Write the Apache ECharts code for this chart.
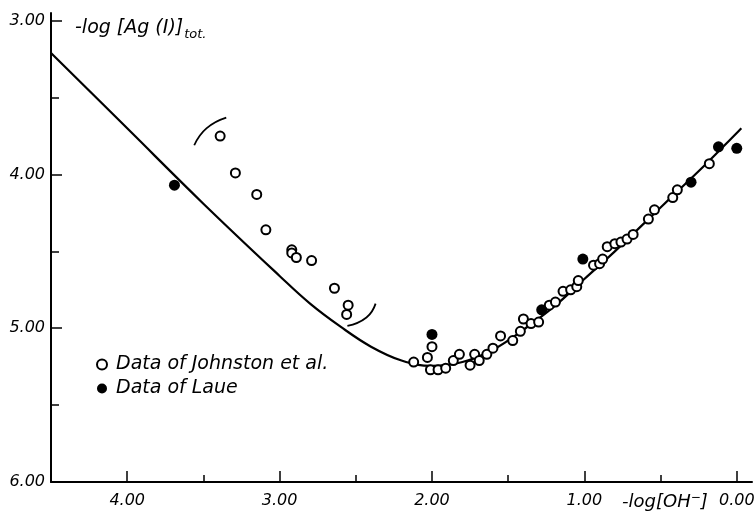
<!DOCTYPE html>
<html>
<head>
<meta charset="utf-8">
<script src="https://cdn.jsdelivr.net/npm/echarts@6/dist/echarts.min.js"></script>
<style>
html,body{margin:0;padding:0;background:#fff;}
#chart{width:755px;height:511px;}
</style>
</head>
<body>
<div id="chart"></div>
<script>
// -log[OH-] values (x) and -log[Ag(I)]tot values (y)
const johnstonX = [3.39,3.29,3.15,3.09,2.92,2.92,2.89,2.79,2.64,2.55,2.56,
  2.12,2.03,2.00,2.01,1.96,1.91,1.86,1.82,1.75,1.72,1.69,1.64,1.60,1.55,1.47,1.42,1.40,1.35,1.30,
  1.23,1.19,1.14,1.09,1.05,1.04,0.94,0.90,0.88,0.85,0.80,0.76,0.72,0.68,0.58,0.54,0.42,0.39,0.18];
const johnstonY = [3.75,3.99,4.13,4.36,4.49,4.51,4.54,4.56,4.74,4.85,4.91,
  5.22,5.19,5.12,5.27,5.27,5.26,5.21,5.17,5.24,5.17,5.21,5.17,5.13,5.05,5.08,5.02,4.94,4.97,4.96,
  4.85,4.83,4.76,4.75,4.73,4.69,4.59,4.58,4.55,4.47,4.45,4.44,4.42,4.39,4.29,4.23,4.15,4.10,3.93];
const laueX = [3.69,2.00,1.28,1.01,0.30,0.12,0.00];
const laueY = [4.07,5.04,4.88,4.55,4.05,3.82,3.83];
const curveX = [4.50,4.00,3.50,3.00,2.80,2.60,2.40,2.20,2.00,1.80,1.60,1.40,1.20,1.00,0.80,0.60,0.40,0.20,0.00,-0.03];
const curveY = [3.21,3.70,4.19,4.66,4.84,4.99,5.12,5.21,5.245,5.22,5.14,5.01,4.86,4.68,4.50,4.31,4.12,3.93,3.73,3.70];
const bracketUpperX = [3.56,3.48,3.35];
const bracketUpperY = [3.81,3.70,3.63];
const bracketLowerX = [2.555,2.43,2.37];
const bracketLowerY = [4.985,4.93,4.84];
const xLabelTicks = [0,1,2,3,4];
const xHalfTicks = [0,0.5,1,1.5,2,2.5,3,3.5,4];
const yLabelTicks = [3,4,5,6];
const yHalfTicks = [3.5,4.5,5.5];

const FONT = 'DejaVu Sans';
const zip = (a,b) => a.map((v,i) => [v,b[i]]);
const fmt = v => Number(v).toFixed(2);

const chart = echarts.init(document.getElementById('chart'), null, {renderer:'canvas'});
const xCommon = {type:'value', min:-0.1, max:4.5, inverse:true, position:'bottom', splitLine:{show:false}};
const yCommon = {type:'value', min:2.95, max:6.0, inverse:true, position:'left', splitLine:{show:false}};
chart.setOption({
  backgroundColor:'#ffffff',
  animation:false,
  grid:{left:51, right:3, top:13, bottom:29, containLabel:false, outerBoundsMode:'none'},
  xAxis:[
    Object.assign({}, xCommon, {
      axisLine:{show:true, onZero:false, lineStyle:{color:'#000', width:2}},
      axisTick:{show:true, inside:true, length:7, customValues:xHalfTicks, lineStyle:{color:'#000', width:1.5}},
      axisLabel:{show:false}
    }),
    Object.assign({}, xCommon, {
      axisLine:{show:false, onZero:false},
      axisTick:{show:true, inside:true, length:11, customValues:xLabelTicks, lineStyle:{color:'#000', width:1.5}},
      axisLabel:{show:true, customValues:xLabelTicks, margin:11, formatter:fmt,
        color:'#000', fontFamily:FONT, fontStyle:'italic', fontSize:16}
    })
  ],
  yAxis:[
    Object.assign({}, yCommon, {
      axisLine:{show:true, onZero:false, lineStyle:{color:'#000', width:2}},
      axisTick:{show:true, inside:true, length:8, customValues:yHalfTicks, lineStyle:{color:'#000', width:1.5}},
      axisLabel:{show:false}
    }),
    Object.assign({}, yCommon, {
      axisLine:{show:false, onZero:false},
      axisTick:{show:true, inside:true, length:11, customValues:[3,4,5], lineStyle:{color:'#000', width:1.5}},
      axisLabel:{show:true, customValues:yLabelTicks, margin:6, formatter:fmt,
        color:'#000', fontFamily:FONT, fontStyle:'italic', fontSize:16}
    })
  ],
  legend:{
    orient:'vertical', left:91, top:350, itemWidth:10, itemHeight:10, itemGap:5,
    data:['Data of Johnston et al.','Data of Laue'],
    textStyle:{color:'#000', fontFamily:FONT, fontStyle:'italic', fontSize:19, padding:[0,0,0,4]}
  },
  graphic:[
    {type:'text', left:75, top:19, style:{
      text:'{m|-log [Ag (I)]}{s|tot.}',
      rich:{
        m:{fontFamily:FONT, fontStyle:'italic', fontSize:19, fill:'#000', verticalAlign:'bottom'},
        s:{fontFamily:FONT, fontStyle:'italic', fontSize:13, fill:'#000', verticalAlign:'bottom', padding:[0,0,-3,1]}
      }}},
    {type:'text', left:622, top:492, style:{
      text:'{m|-log[OH}{p|−}{m|]}',
      rich:{
        m:{fontFamily:FONT, fontStyle:'italic', fontSize:18, fill:'#000'},
        p:{fontFamily:FONT, fontSize:12, fill:'#000', padding:[0,0,8,0]}
      }}}
  ],
  series:[
    {name:'curve', type:'line', data:zip(curveX,curveY), smooth:0.4, showSymbol:false,
      lineStyle:{color:'#000', width:2.2}, z:2, silent:true},
    {name:'bracket1', type:'line', data:zip(bracketUpperX,bracketUpperY), smooth:true, showSymbol:false,
      lineStyle:{color:'#000', width:1.8}, z:2, silent:true},
    {name:'bracket2', type:'line', data:zip(bracketLowerX,bracketLowerY), smooth:true, showSymbol:false,
      lineStyle:{color:'#000', width:1.8}, z:2, silent:true},
    {name:'Data of Johnston et al.', type:'scatter', data:zip(johnstonX,johnstonY), symbol:'circle', symbolSize:9,
      itemStyle:{color:'#fff', borderColor:'#000', borderWidth:2, opacity:1}, z:3},
    {name:'Data of Laue', type:'scatter', data:zip(laueX,laueY), symbol:'circle', symbolSize:11,
      itemStyle:{color:'#000', borderColor:'#000', borderWidth:0, opacity:1}, z:4}
  ]
});
</script>
</body>
</html>
